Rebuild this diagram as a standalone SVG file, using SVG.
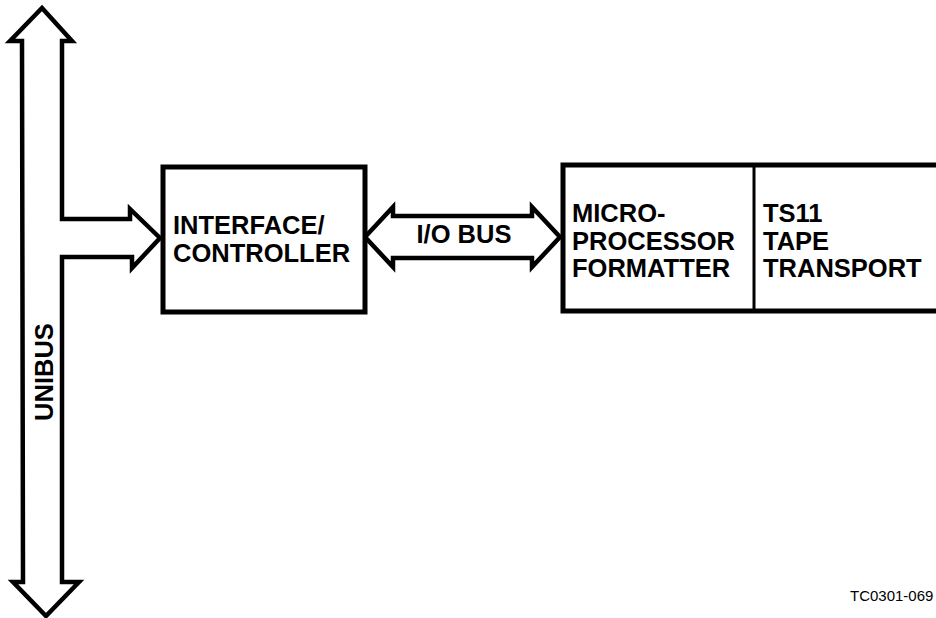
<svg xmlns="http://www.w3.org/2000/svg" width="936" height="618" viewBox="0 0 936 618">
<style>
.box{fill:#fff;stroke:#000;stroke-width:5}
.arr{fill:#fff;stroke:#000;stroke-width:4.5;stroke-linejoin:miter}
.t{font-family:"Liberation Sans",Arial,sans-serif;font-weight:bold;font-size:25.5px;fill:#000}
.s{font-family:"Liberation Sans",Arial,sans-serif;font-size:15px;fill:#000}
</style>
<rect width="936" height="618" fill="#fff"/>
<g id="connectors">
<path id="unibus" class="arr" d="M42,8 L72,41 L62,41 L62,219 L130,219 L130,209 L160,238 L132,268 L132,257 L62,257 L62,582 L79,582 L46,616 L13,582 L23,582 L22,41 L10,41 Z"/>
<path id="iobus" class="arr" d="M365,237 L393,207 L393,216 L532,216 L532,207 L560,237 L532,267 L532,258 L393,258 L393,267 Z"/>
<text class="t" transform="translate(53,372) rotate(-90)" text-anchor="middle">UNIBUS</text>
<text class="t" x="464" y="243" text-anchor="middle">I/O BUS</text>
</g>
<g id="controller">
<rect class="box" x="163" y="167" width="202" height="145"/>
<text class="t" x="173" y="234">INTERFACE/</text>
<text class="t" x="173" y="262">CONTROLLER</text>
</g>
<g id="formatter">
<rect class="box" x="563" y="165" width="400" height="146"/>
<line x1="754" y1="165" x2="754" y2="311" stroke="#000" stroke-width="3"/>
<text class="t" x="572" y="222">MICRO-</text>
<text class="t" x="572" y="250">PROCESSOR</text>
<text class="t" x="572" y="277">FORMATTER</text>
</g>
<g id="transport">
<text class="t" x="763" y="222">TS11</text>
<text class="t" x="763" y="250">TAPE</text>
<text class="t" x="763" y="277">TRANSPORT</text>
</g>
<text class="s" x="850" y="601">TC0301-069</text>
</svg>
